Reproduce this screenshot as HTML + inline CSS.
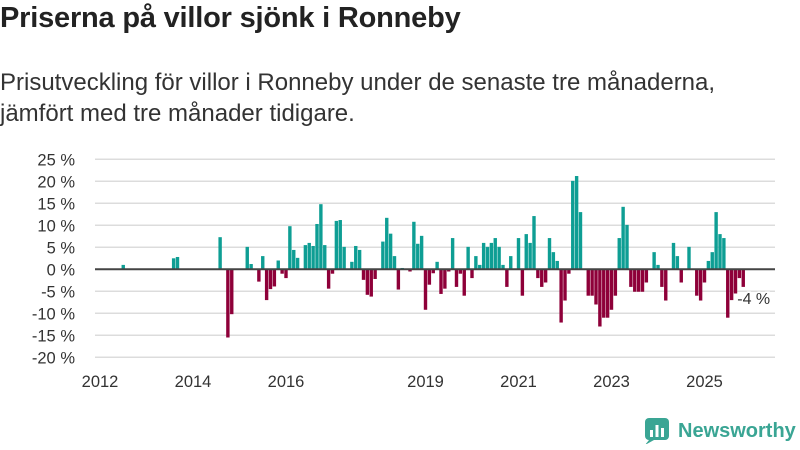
<!DOCTYPE html>
<html><head><meta charset="utf-8">
<style>
body{margin:0;width:800px;height:450px;background:#fff;font-family:"Liberation Sans",sans-serif;color:#222;overflow:hidden;position:relative}
#title{position:absolute;left:0;top:2px;font-size:29px;font-weight:bold;margin:0;letter-spacing:-0.2px}
#sub{position:absolute;left:0;top:67px;font-size:24px;line-height:31px;color:#333;width:800px;white-space:nowrap}
svg{position:absolute;left:0;top:0}
#logo{position:absolute;left:645px;top:418px;display:flex;align-items:center;gap:7px}
</style></head><body>
<h1 id="title">Priserna på villor sjönk i Ronneby</h1>
<div id="sub">Prisutveckling för villor i Ronneby under de senaste tre månaderna,<br>jämfört med tre månader tidigare.</div>
<svg id="chart" width="800" height="450"></svg>
<div id="logo">
<svg width="26" height="26" style="position:static"><rect x="0" y="0" width="24" height="22" rx="4" fill="#3aa594"/><path d="M4 22 L0 27 L9 22Z" fill="#3aa594"/><rect x="5" y="12" width="3" height="7" fill="#fff"/><rect x="10.5" y="7" width="3" height="12" fill="#fff"/><rect x="16" y="10" width="3" height="9" fill="#fff"/></svg>
<span style="font-size:20px;font-weight:bold;color:#3aa594">Newsworthy</span>
</div>
<script>
// month index: 0 = 2012-01
const months=[6,19,20,31,33,34,38,39,41,42,43,44,45,46,47,48,49,50,51,53,54,55,56,57,58,59,60,61,62,63,65,66,67,68,69,70,71,73,74,75,76,77,78,80,81,82,83,84,85,86,87,88,89,90,91,92,93,94,95,96,97,98,99,100,101,102,103,104,105,106,108,109,110,111,112,113,114,115,116,117,118,119,120,121,122,123,124,126,127,128,129,130,131,132,133,134,135,136,137,138,139,140,141,143,144,145,146,148,149,150,152,154,155,156,157,158,159,160,161,162,163,164,165,166];
const values=[1,2.5,2.8,7.3,-15.5,-10.2,5.1,1.2,-2.8,3,-7,-4.5,-3.9,2,-1,-2,9.8,4.4,2.6,5.5,6,5.3,10.3,14.8,5.5,-4.4,-1,11,11.2,5.1,1.7,5.3,4.4,-2.4,-5.8,-6.2,-2.2,6.3,11.7,8.1,3,-4.6,0.3,-0.5,10.8,5.8,7.6,-9.2,-3.5,-0.9,1.7,-5.6,-4.4,-0.5,7.1,-4,-1,-6,5.1,-2,3,1,6,5.1,6,7.1,5.1,1,-4,3,7.1,-6,8,6,12.1,-2,-4,-3,7.1,3.9,1.9,-12.1,-7.1,-1,20.1,21.2,13,-6,-6,-8,-13,-11,-11,-9.2,-6,7.1,14.2,10.1,-4,-5.1,-5.1,-5.1,-3,3.9,1,-4,-7.1,6,3,-3,5.1,-6,-7.1,-3,1.9,3.9,13,8,7.1,-11,-7,-5.5,-2,-4];
const yTicks=[25,20,15,10,5,0,-5,-10,-15,-20];
const xLabels=["2012","2014","2016","2019","2021","2023","2025"];
const xLabelMonths=[0,24,48,84,108,132,156];
const lastLabel="-4 %";
const NS="http://www.w3.org/2000/svg";
const svg=document.getElementById('chart');
const x=m=>100+3.875*m;
const y=v=>269.3-4.4*v;
function mk(t,a){const e=document.createElementNS(NS,t);for(const k in a)e.setAttribute(k,a[k]);svg.appendChild(e);return e;}
yTicks.forEach(v=>{
  const g=mk('line',{x1:95,x2:775,y1:y(v),y2:y(v),stroke:'#dcdcdc','stroke-width':1.5});
  
  
  const t=mk('text',{x:75,y:y(v)+6,'text-anchor':'end','font-size':16.5,fill:'#333','font-family':'Liberation Sans, sans-serif'});
  t.textContent=v+' %';
  
  
});
xLabels.forEach((l,i)=>{
  const t=mk('text',{x:x(xLabelMonths[i]),y:387,'text-anchor':'middle','font-size':16.5,fill:'#333','font-family':'Liberation Sans, sans-serif'});
  t.textContent=l;
  
  
});
months.forEach((m,i)=>{
  const v=values[i];
  const r=mk('rect',{x:x(m)-1.7,width:3.4,y:Math.min(y(v),y(0)),height:Math.abs(y(v)-y(0)),fill:v>=0?'#0e9e94':'#8e0039'});
  
  
});
const z=mk('line',{x1:95,x2:775,y1:y(0),y2:y(0),stroke:'#444','stroke-width':2});


const lm=months[months.length-1];
const lt=mk('text',{x:x(lm)-6,y:y(-4)+17,'font-size':16,fill:'#333',stroke:'#fff','stroke-width':3,'paint-order':'stroke','font-family':'Liberation Sans, sans-serif'});
lt.textContent=lastLabel;


</script>
</body></html>
